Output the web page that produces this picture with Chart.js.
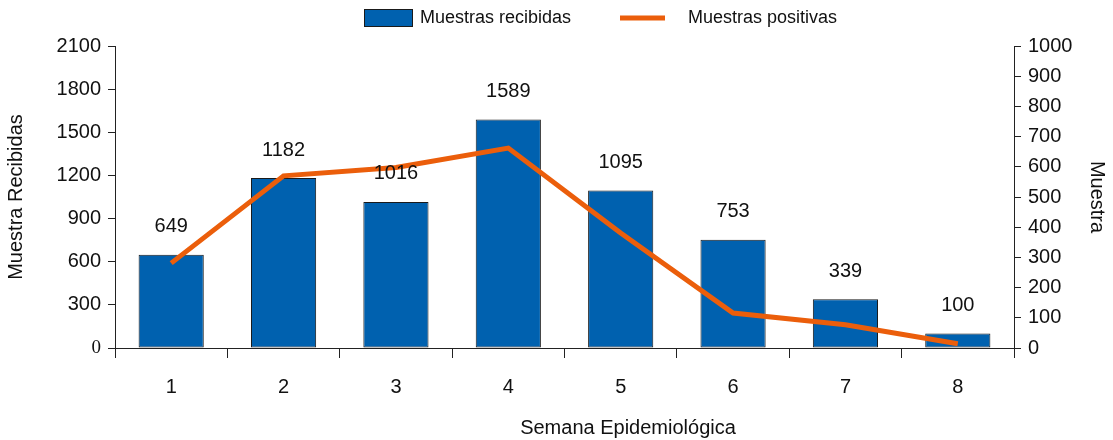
<!DOCTYPE html>
<html>
<head>
<meta charset="utf-8">
<script src="https://cdn.jsdelivr.net/npm/chart.js@4"></script>
<style>
  html, body { margin: 0; padding: 0; background: #fff; }
  #wrap { width: 1113px; height: 440px; }
</style>
</head>
<body>
<div id="wrap"><canvas id="chart" width="1113" height="440"></canvas></div>
<script>
// datos
const semanas = ['1', '2', '3', '4', '5', '6', '7', '8'];
const recibidas = [649, 1182, 1016, 1589, 1095, 753, 339, 100];
const positivas = [281, 570, 598, 662, 381, 116, 77, 14];
const ticksIzq = [0, 300, 600, 900, 1200, 1500, 1800, 2100];
const ticksDer = [0, 100, 200, 300, 400, 500, 600, 700, 800, 900, 1000];

const azul = '#0061AF';
const naranja = '#EB5E0B';
const fuente = 'Liberation Sans, Arial, sans-serif';

// etiquetas de valor encima de cada barra
const etiquetasBarras = {
    id: 'etiquetasBarras',
    afterDatasetsDraw(chart) {
        const ctx = chart.ctx;
        const meta = chart.getDatasetMeta(0);
        ctx.save();
        ctx.font = '20px ' + fuente;
        ctx.fillStyle = '#111';
        ctx.textAlign = 'center';
        ctx.textBaseline = 'middle';
        meta.data.forEach(function (bar, i) {
            ctx.fillText(String(recibidas[i]), bar.x, bar.y - 28);
        });
        ctx.restore();
    }
};

// leyenda y título del eje x
const leyenda = {
    id: 'leyenda',
    afterDraw(chart) {
        const ctx = chart.ctx;
        ctx.save();
        ctx.font = '18px ' + fuente;
        ctx.textBaseline = 'middle';
        ctx.textAlign = 'left';

        ctx.fillStyle = azul;
        ctx.fillRect(364.5, 9.5, 48, 17);
        ctx.strokeStyle = '#1a1a1a';
        ctx.lineWidth = 1;
        ctx.strokeRect(364.5, 9.5, 48, 17);
        ctx.fillStyle = '#111';
        ctx.fillText('Muestras recibidas', 420, 18);

        ctx.strokeStyle = naranja;
        ctx.lineWidth = 5;
        ctx.beginPath();
        ctx.moveTo(620, 18);
        ctx.lineTo(665, 18);
        ctx.stroke();
        ctx.fillText('Muestras positivas', 688, 18);

        ctx.font = '20px ' + fuente;
        ctx.textAlign = 'center';
        ctx.fillText('Semana Epidemiológica', 628, 428);
        ctx.restore();
    }
};

new Chart(document.getElementById('chart').getContext('2d'), {
    type: 'bar',
    data: {
        labels: semanas,
        datasets: [
            {
                type: 'bar',
                label: 'Muestras recibidas',
                data: recibidas,
                backgroundColor: azul,
                borderColor: '#1a1a1a',
                borderWidth: 1,
                borderSkipped: false,
                barPercentage: 0.58,
                categoryPercentage: 1,
                yAxisID: 'y',
                order: 1
            },
            {
                type: 'line',
                label: 'Muestras positivas',
                data: positivas,
                borderColor: naranja,
                backgroundColor: naranja,
                borderWidth: 5,
                borderCapStyle: 'butt',
                tension: 0,
                pointRadius: 0,
                yAxisID: 'y1',
                order: 0
            }
        ]
    },
    options: {
        responsive: false,
        animation: false,
        layout: { padding: { top: 46, left: 0, right: 0, bottom: 0 } },
        plugins: {
            legend: { display: false },
            tooltip: { enabled: false }
        },
        scales: {
            x: {
                afterFit(scale) { scale.height = 92; },
                grid: { drawOnChartArea: false, tickLength: 10, color: '#222' },
                border: { color: '#222', width: 1 },
                ticks: { color: '#111', padding: 17, font: { family: fuente, size: 20 } }
            },
            y: {
                position: 'left',
                min: 0,
                max: 2100,
                afterFit(scale) { scale.width = 115; },
                afterBuildTicks(scale) { scale.ticks = ticksIzq.map(v => ({ value: v })); },
                grid: { drawOnChartArea: false, tickLength: 7, color: '#222' },
                border: { color: '#222', width: 1 },
                ticks: {
                    color: '#111',
                    padding: 7,
                    callback: (v) => String(v),
                    font: (c) => (c.tick && c.tick.value === 0)
                        ? { family: 'Liberation Serif, Times New Roman, serif', size: 19 }
                        : { family: fuente, size: 20 }
                },
                title: {
                    display: true,
                    text: 'Muestra Recibidas',
                    color: '#111',
                    font: { family: fuente, size: 20 }
                }
            },
            y1: {
                position: 'right',
                min: 0,
                max: 1000,
                afterFit(scale) { scale.width = 99; },
                afterBuildTicks(scale) { scale.ticks = ticksDer.map(v => ({ value: v })); },
                grid: { drawOnChartArea: false, tickLength: 7, color: '#222' },
                border: { color: '#222', width: 1 },
                ticks: {
                    color: '#111',
                    padding: 7,
                    callback: (v) => String(v),
                    font: { family: fuente, size: 20 }
                },
                title: {
                    display: true,
                    text: 'Muestra',
                    color: '#111',
                    font: { family: fuente, size: 20 }
                }
            }
        }
    },
    plugins: [etiquetasBarras, leyenda]
});
</script>
</body>
</html>
